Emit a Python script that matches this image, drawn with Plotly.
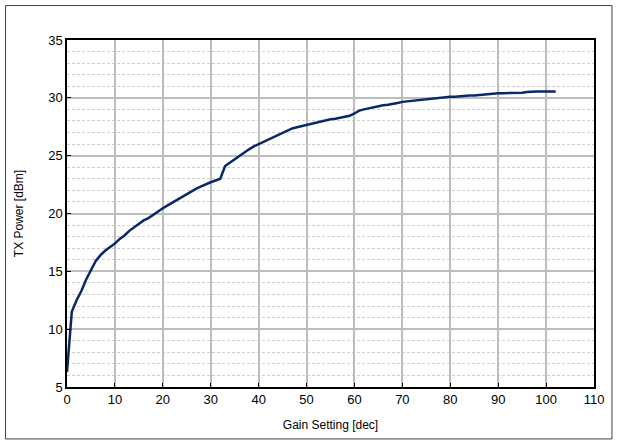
import plotly.graph_objects as go

gain = list(range(0, 103))
power = [6.3, 11.5, 12.5, 13.3, 14.3, 15.1, 15.9, 16.4, 16.8, 17.1,
         17.4, 17.8, 18.1, 18.5, 18.8, 19.1, 19.4, 19.6, 19.9, 20.2,
         20.45, 20.7, 20.95, 21.2, 21.45, 21.7, 21.95, 22.15, 22.35, 22.55,
         22.7, 22.85, 23.0, 24.1, 24.4, 24.7, 25.0, 25.3, 25.55, 25.8,
         26.0, 26.2, 26.4, 26.6, 26.8, 27.0, 27.15, 27.35, 27.45, 27.55,
         27.65, 27.8, 27.9, 28.0, 28.05, 28.15, 28.2, 28.3, 28.35, 28.45,
         28.65, 28.9, 29.0, 29.1, 29.2, 29.25, 29.35, 29.4, 29.45, 29.55,
         29.65, 29.7, 29.75, 29.8, 29.85, 29.9, 29.95, 30.0, 30.0, 30.05,
         30.1, 30.1, 30.15, 30.15, 30.2, 30.2, 30.25, 30.3, 30.3, 30.35,
         30.4, 30.4, 30.4, 30.45, 30.45, 30.45, 30.5, 30.55, 30.55, 30.55,
         30.55, 30.55, 30.55]

W, H = 617, 444
ml, mr, mt, mb = 66.5, 23, 39.5, 57
pw = W - ml - mr
ph = H - mt - mb

fig = go.Figure()
fig.add_trace(go.Scatter(x=gain, y=power, mode="lines",
                         line=dict(color="#0a2867", width=2.5),
                         showlegend=False))

font = dict(family="Arial, Liberation Sans, sans-serif", size=13, color="black")
fig.update_layout(
    width=W, height=H,
    margin=dict(l=ml, r=mr, t=mt, b=mb, pad=0),
    paper_bgcolor="white", plot_bgcolor="white",
    font=font,
    xaxis=dict(range=[0, 110], dtick=10, tick0=0,
               showgrid=True, gridcolor="#bdbdbd", gridwidth=1.5,
               showline=True, linecolor="black", linewidth=1.5, mirror=True,
               ticks="inside", ticklen=4, tickcolor="black",
               zeroline=False,
               title=dict(text="Gain Setting [dec]", font=dict(size=12), standoff=14)),
    yaxis=dict(range=[5, 35], dtick=5, tick0=5,
               showgrid=True, gridcolor="#bdbdbd", gridwidth=1.5,
               minor=dict(dtick=1, showgrid=True, gridcolor="#cfcfcf",
                          griddash="3px,2px", gridwidth=1),
               showline=True, linecolor="black", linewidth=1.5, mirror=True,
               ticks="inside", ticklen=4, tickcolor="black",
               zeroline=False,
               title=dict(text="TX Power [dBm]", font=dict(size=12), standoff=22)),
)

# outer chart border
fig.add_shape(type="rect", xref="paper", yref="paper",
              x0=(5 - ml) / pw, x1=(612 - ml) / pw,
              y0=(H - 439 - mb) / ph, y1=(H - 5 - mb) / ph,
              line=dict(color="#404040", width=1), layer="below")

fig.write_html("out.html")
